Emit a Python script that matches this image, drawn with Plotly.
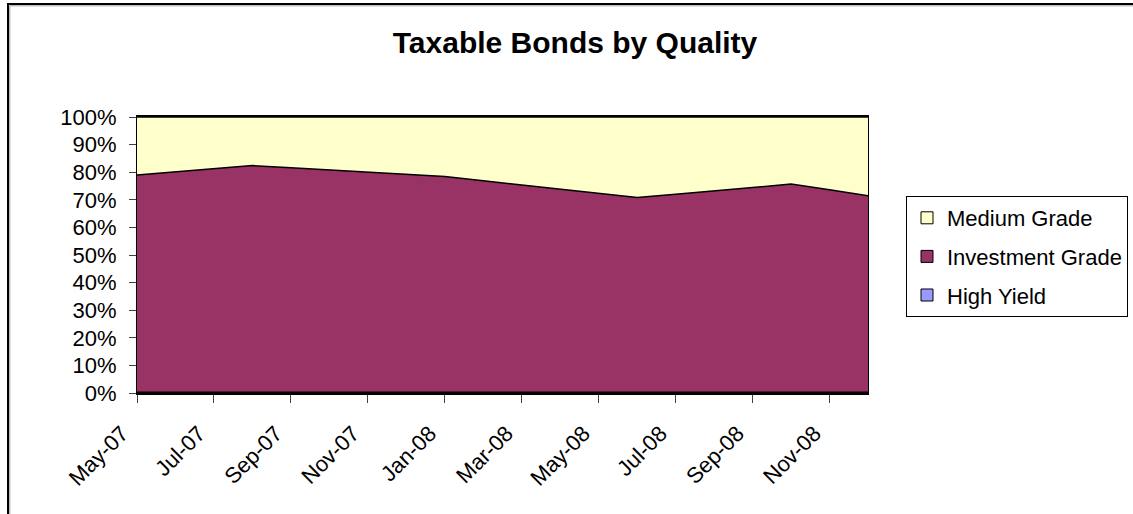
import plotly.graph_objects as go

months = ["May-07", "Jun-07", "Jul-07", "Aug-07", "Sep-07", "Oct-07", "Nov-07", "Dec-07",
          "Jan-08", "Feb-08", "Mar-08", "Apr-08", "May-08", "Jun-08", "Jul-08", "Aug-08",
          "Sep-08", "Oct-08", "Nov-08", "Dec-08"]
tick_labels = ["May-07", "Jul-07", "Sep-07", "Nov-07", "Jan-08", "Mar-08", "May-08",
               "Jul-08", "Sep-08", "Nov-08"]

high_yield = [0.3] * 20
investment_grade = [78.7, 79.8, 80.9, 82.1, 81.3, 80.5, 79.6, 78.9, 78.1, 76.6, 75.1, 73.6,
                    72.0, 70.5, 71.7, 73.0, 74.2, 75.4, 73.3, 71.2]
medium_grade = [21.0, 19.9, 18.8, 17.6, 18.4, 19.2, 20.1, 20.8, 21.6, 23.1, 24.6, 26.1,
                27.7, 29.2, 28.0, 26.7, 25.5, 24.3, 26.4, 28.5]

C_HY = "#9999FF"
C_IG = "#993366"
C_MG = "#FFFFCC"
FONT = "Arial, Liberation Sans, sans-serif"

fig = go.Figure()
for name, vals, col in [("High Yield", high_yield, C_HY),
                        ("Investment Grade", investment_grade, C_IG),
                        ("Medium Grade", medium_grade, C_MG)]:
    fig.add_trace(go.Scatter(x=months, y=vals, name=name, mode="lines",
                             stackgroup="one", groupnorm="percent",
                             fillcolor=col, line=dict(color="black", width=1.5),
                             showlegend=False, hoverinfo="skip"))

for i, (name, col) in enumerate([("Medium Grade", C_MG), ("Investment Grade", C_IG),
                                 ("High Yield", C_HY)]):
    fig.add_trace(go.Scatter(x=[None], y=[None], mode="markers", name=name,
                             legendgroup=f"g{i}",
                             marker=dict(symbol="square", size=12, color=col,
                                         line=dict(color="black", width=1))))

L, R, T, B = 137, 868, 117, 393
W, H = 1133, 514
pw, ph = R - L, B - T

def px(x):
    return (x - L) / pw

def py(y):
    return (B - y) / ph

fig.update_layout(
    width=W, height=H,
    margin=dict(l=L, r=W - R, t=T, b=H - B, pad=0, autoexpand=False),
    paper_bgcolor="white", plot_bgcolor="white",
    font=dict(family=FONT, size=22, color="black"),
    title=dict(text="<b>Taxable Bonds by Quality</b>", font=dict(size=30, family=FONT),
               x=575 / W, xanchor="center", xref="container",
               y=1 - 42 / H, yanchor="middle", yref="container"),
    xaxis=dict(type="category", range=[0, len(months) - 1],
               tickmode="array", tickvals=tick_labels, ticktext=tick_labels,
               tickangle=-45, ticks="outside", ticklen=8, tickcolor="#404040",
               ticklabelshift=-15, ticklabelstandoff=9,
               showline=True, linecolor="black", linewidth=2, mirror=True,
               showgrid=False, zeroline=False, tickfont=dict(size=22)),
    yaxis=dict(range=[0, 100], dtick=10, ticksuffix="%", ticks="outside", ticklen=7,
               tickcolor="#404040", showline=True, linecolor="black", linewidth=1,
               mirror=True, showgrid=False, zeroline=False, ticklabelstandoff=8,
               tickfont=dict(size=22)),
    legend=dict(x=px(906), y=py(196), xanchor="left", yanchor="top",
                bordercolor="black", borderwidth=1, bgcolor="white",
                font=dict(size=22), traceorder="grouped", tracegroupgap=7),
    shapes=[
        dict(type="rect", xref="paper", yref="paper",
             x0=px(8), x1=px(1145), y0=py(525), y1=py(4),
             line=dict(color="black", width=2), layer="below"),
        dict(type="rect", xref="paper", yref="paper",
             x0=px(9.8), x1=px(1145), y0=py(525), y1=py(5.8),
             line=dict(color="#A0A0A0", width=1), layer="below"),
    ],
)

fig.write_html("out.html", config={"displayModeBar": False},
               post_script="document.body.style.margin='0';document.body.style.overflow='hidden';")
